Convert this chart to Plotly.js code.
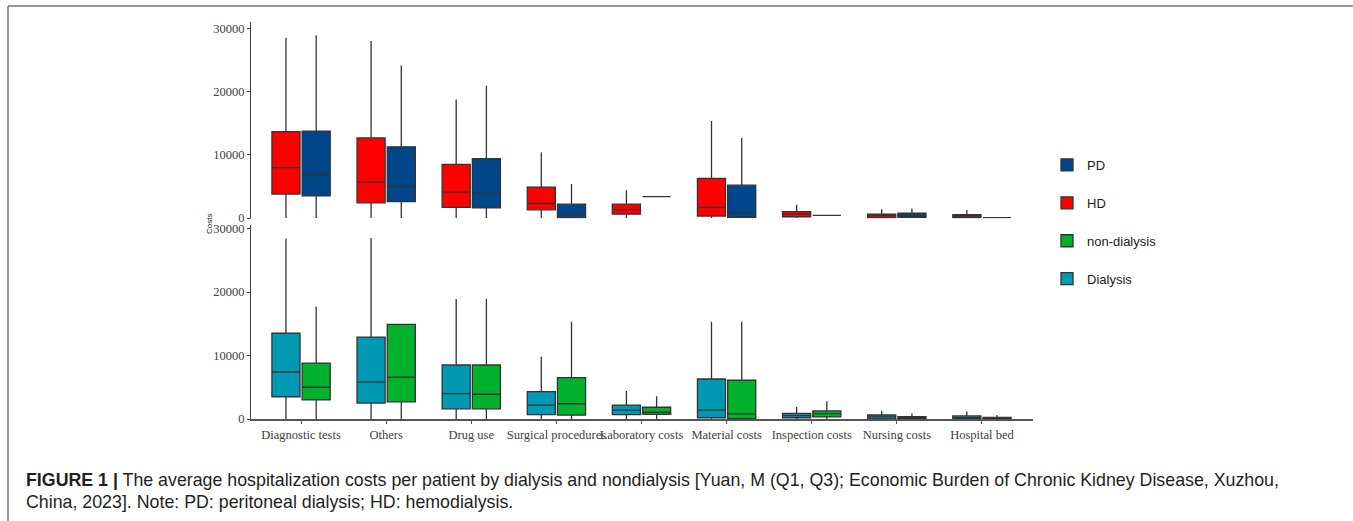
<!DOCTYPE html>
<html>
<head>
<meta charset="utf-8">
<script src="https://cdn.plot.ly/plotly-3.0.1.min.js"></script>
<style>html,body{margin:0;padding:0;background:#fff;}#chart{width:1353px;height:521px;}</style>
</head>
<body>
<div id="chart"></div>
<script>
const categories = ["Diagnostic tests","Others","Drug use","Surgical procedures","Laboratory costs","Material costs","Inspection costs","Nursing costs","Hospital bed"];

// Top panel: HD and PD
const hdLow    = [0, 0, 0, 0, 0, 0, 0, 0, 0];
const hdQ1     = [3800, 2400, 1700, 1300, 600, 300, 200, 50, 50];
const hdMedian = [8000, 5700, 4100, 2300, 1300, 1700, 600, 370, 320];
const hdQ3     = [13700, 12700, 8500, 4900, 2200, 6300, 1000, 630, 530];
const hdHigh   = [28600, 28100, 18800, 10400, 4400, 15400, 2100, 1400, 1270];

const pdLow    = [0, 0, 0, 0, 3400, 0, 430, 0, 50];
const pdQ1     = [3500, 2600, 1600, 50, 3400, 100, 430, 100, 50];
const pdMedian = [6900, 5000, 4000, 500, 3400, 850, 430, 370, 50];
const pdQ3     = [13800, 11300, 9400, 2200, 3400, 5200, 430, 750, 50];
const pdHigh   = [29000, 24200, 21000, 5400, 3400, 12700, 430, 1500, 50];

// Bottom panel: Dialysis and non-dialysis
const diLow    = [0, 0, 0, 0, 0, 0, 0, 0, 0];
const diQ1     = [3500, 2500, 1600, 700, 700, 200, 200, 0, 0];
const diMedian = [7400, 5800, 4000, 2200, 1400, 1400, 530, 320, 200];
const diQ3     = [13500, 12900, 8500, 4300, 2200, 6300, 900, 630, 480];
const diHigh   = [28400, 28500, 18900, 9800, 4400, 15300, 1900, 1300, 1200];

const ndLow    = [0, 0, 0, 0, 0, 0, 0, 0, 0];
const ndQ1     = [3000, 2700, 1600, 600, 740, 50, 320, 0, 0];
const ndMedian = [5000, 6600, 3900, 2400, 1060, 800, 850, 160, 100];
const ndQ3     = [8800, 14900, 8500, 6500, 1850, 6100, 1270, 370, 270];
const ndHigh   = [17700, 14900, 18900, 15300, 3600, 15300, 2800, 900, 630];

const yTicks = [0, 10000, 20000, 30000];

const lineCol = '#333333';
function box(name, color, low, q1, med, q3, high, xa, ya, rank, og) {
  return {
    type: 'box', name: name, x: categories,
    lowerfence: low, q1: q1, median: med, q3: q3, upperfence: high,
    xaxis: xa, yaxis: ya, offsetgroup: og,
    fillcolor: color, line: {color: lineCol, width: 1.3},
    whiskerwidth: 0, boxpoints: false, hoverinfo: 'skip',
    legendgroup: name, legendrank: rank
  };
}

const data = [
  box('HD', '#FF0000', hdLow, hdQ1, hdMedian, hdQ3, hdHigh, 'x2', 'y2', 2, 'left'),
  box('PD', '#00468B', pdLow, pdQ1, pdMedian, pdQ3, pdHigh, 'x2', 'y2', 1, 'right'),
  box('Dialysis', '#0099B4', diLow, diQ1, diMedian, diQ3, diHigh, 'x', 'y', 4, 'left'),
  box('non-dialysis', '#00B22D', ndLow, ndQ1, ndMedian, ndQ3, ndHigh, 'x', 'y', 3, 'right')
];

const W = 1353, H = 521;
const px = v => v / W;
const py = v => (H - v) / H;

const tickFont = {family: 'Liberation Serif, Times New Roman, serif', size: 12.5, color: '#404040'};
const yaxisBase = {
  tickvals: yTicks, tickformat: 'd', showgrid: false, zeroline: false,
  showline: true, linecolor: '#444', linewidth: 1,
  ticks: 'outside', ticklen: 3, tickcolor: '#444', tickfont: tickFont,
  anchor: 'free', position: px(250)
};

const captionFont = {family: 'Liberation Sans, Arial, sans-serif', size: 17.8, color: '#231f20'};

const layout = {
  width: W, height: H,
  margin: {l: 0, r: 0, t: 0, b: 0},
  paper_bgcolor: '#fff', plot_bgcolor: '#fff',
  boxmode: 'group', boxgap: 0.29, boxgroupgap: 0.07,
  showlegend: true,
  legend: {
    x: px(1047), y: py(150), xanchor: 'left', yanchor: 'top',
    font: {family: 'Liberation Sans, Arial, sans-serif', size: 13, color: '#222'},
    tracegroupgap: 18, bgcolor: 'rgba(0,0,0,0)'
  },
  xaxis: {
    domain: [px(250), px(1033)], anchor: 'y', type: 'category',
    categoryorder: 'array', categoryarray: categories,
    range: [-0.6, 8.6], showgrid: false, zeroline: false,
    showline: true, linecolor: '#555', linewidth: 1.5,
    ticks: 'outside', ticklen: 3, tickcolor: '#555', tickfont: tickFont,
    tickangle: 0
  },
  xaxis2: {
    domain: [px(250), px(1033)], anchor: 'y2', type: 'category',
    categoryorder: 'array', categoryarray: categories,
    range: [-0.6, 8.6], showgrid: false, zeroline: false,
    showline: false, showticklabels: false, ticks: ''
  },
  yaxis: Object.assign({}, yaxisBase, {domain: [py(419), py(225)], range: [0, 30550]}),
  yaxis2: Object.assign({}, yaxisBase, {domain: [py(218.5), py(22)], range: [-80, 31100]}),
  annotations: [
    {text: 'Costs', xref: 'paper', yref: 'paper', x: px(209), y: py(224),
     showarrow: false, textangle: -90, xanchor: 'center', yanchor: 'middle',
     font: {family: 'Liberation Sans, Arial, sans-serif', size: 8, color: '#222'}},
    {text: '<b>FIGURE 1 |</b> The average hospitalization costs per patient by dialysis and nondialysis [Yuan, M (Q1, Q3); Economic Burden of Chronic Kidney Disease, Xuzhou,',
     xref: 'paper', yref: 'paper', x: px(24), y: py(480), xanchor: 'left', yanchor: 'middle',
     showarrow: false, align: 'left', font: captionFont},
    {text: 'China, 2023]. Note: PD: peritoneal dialysis; HD: hemodialysis.',
     xref: 'paper', yref: 'paper', x: px(24), y: py(502), xanchor: 'left', yanchor: 'middle',
     showarrow: false, align: 'left', font: captionFont}
  ],
  shapes: [
    {type: 'line', xref: 'paper', yref: 'paper', x0: px(8), x1: 1, y0: py(6), y1: py(6), line: {color: '#7a7a7a', width: 1.5}},
    {type: 'line', xref: 'paper', yref: 'paper', x0: px(8), x1: px(8), y0: py(6), y1: 0, line: {color: '#7a7a7a', width: 1.5}}
  ]
};

Plotly.newPlot('chart', data, layout, {displayModeBar: false, staticPlot: true});
</script>
</body>
</html>
